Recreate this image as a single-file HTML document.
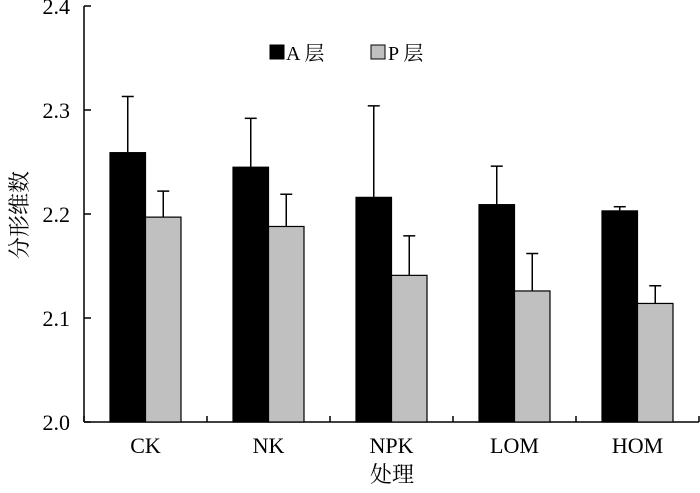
<!DOCTYPE html>
<html><head><meta charset="utf-8"><style>
body{margin:0;background:#fff}
svg text{font-family:"Liberation Serif","Noto Serif CJK SC",serif;fill:#000}
</style></head><body>
<svg id="c" width="700" height="488"></svg>
<script>
const categories=["CK","NK","NPK","LOM","HOM"];
const aValues=[2.259,2.245,2.216,2.209,2.203];
const aErrors=[0.054,0.047,0.088,0.037,0.004];
const pValues=[2.197,2.188,2.141,2.126,2.114];
const pErrors=[0.025,0.031,0.038,0.036,0.017];
const yTicks=[2.0,2.1,2.2,2.3,2.4];
const NS="http://www.w3.org/2000/svg";
const svg=document.getElementById('c');
const x0=84,x1=699,yTop=6,yBot=422,ymin=2.0,ymax=2.4;
const y=v=>yBot-(v-ymin)/(ymax-ymin)*(yBot-yTop);
const band=(x1-x0)/categories.length;
const bw=35.5;
function mk(t,a){const e=document.createElementNS(NS,t);for(const k in a)e.setAttribute(k,a[k]);svg.appendChild(e);return e;}
let e;
e=mk('line',{x1:x0,y1:yTop,x2:x0,y2:yBot,stroke:'#000','stroke-width':1.5});


e=mk('line',{x1:x0,y1:yBot,x2:x1,y2:yBot,stroke:'#000','stroke-width':1.5});


yTicks.forEach(t=>{
 e=mk('line',{x1:x0,y1:y(t),x2:x0+7,y2:y(t),stroke:'#000','stroke-width':1.5});
 
 
 e=mk('text',{x:x0-14,y:y(t)+8,'text-anchor':'end','font-size':22});
 e.textContent=t.toFixed(1);
 
 
});
for(let i=0;i<=categories.length;i++){
 const xx=x0+band*i;
 e=mk('line',{x1:xx,y1:yBot,x2:xx,y2:yBot-6,stroke:'#000','stroke-width':1.5});
 
 
}
function bar(xl,v,err,fill,name){
 const t=y(v),et=y(v+err);
 e=mk('line',{x1:xl+bw/2,y1:t,x2:xl+bw/2,y2:et,stroke:'#000','stroke-width':1.5});
 
 
 e=mk('line',{x1:xl+bw/2-6,y1:et,x2:xl+bw/2+6,y2:et,stroke:'#000','stroke-width':1.5});
 
 
 e=mk('rect',{x:xl,y:t,width:bw,height:yBot-t,fill:fill,stroke:'#000','stroke-width':1.2});
 
 
}
categories.forEach((c,i)=>{
 const cx=x0+band*(i+0.5);
 bar(cx-bw,aValues[i],aErrors[i],'#000','bar-a-'+c.toLowerCase());
 bar(cx,pValues[i],pErrors[i],'#c0c0c0','bar-p-'+c.toLowerCase());
 e=mk('text',{x:cx,y:453,'text-anchor':'middle','font-size':22});
 e.textContent=c;
 
 
});
e=mk('text',{x:392,y:482,'text-anchor':'middle','font-size':22});
e.textContent='处理';


e=mk('text',{x:0,y:0,'text-anchor':'middle','font-size':22,transform:'translate(27,215) rotate(-90)'});
e.textContent='分形维数';


e=mk('rect',{x:270,y:45,width:14,height:14,fill:'#000',stroke:'#000'});


e=mk('text',{x:286,y:60,'font-size':20});
e.textContent='A 层';


e=mk('rect',{x:371,y:45,width:14,height:14,fill:'#c0c0c0',stroke:'#000'});


e=mk('text',{x:388,y:60,'font-size':20});
e.textContent='P 层';


</script>
</body></html>
